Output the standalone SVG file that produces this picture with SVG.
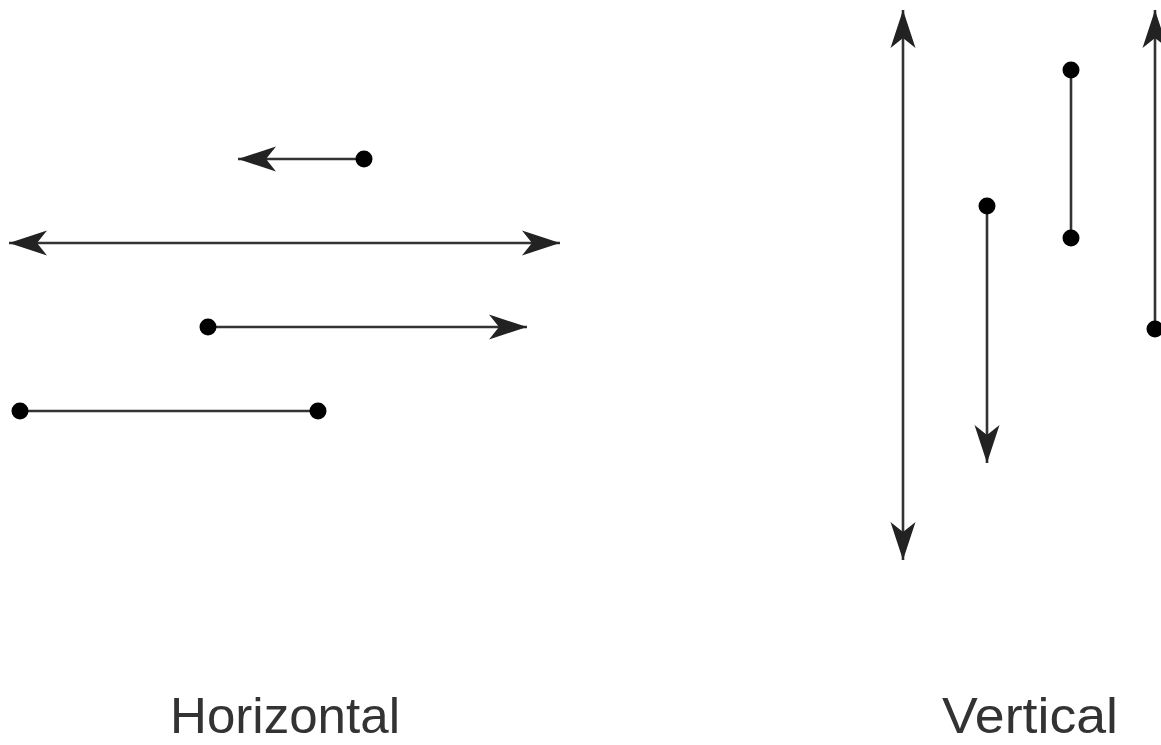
<svg xmlns="http://www.w3.org/2000/svg" width="1161" height="745" viewBox="0 0 1161 745">
<style>
.ln{stroke:#333;stroke-width:2.6;fill:none}
.dot{fill:#000}
.lbl{font-family:"Liberation Sans",Arial,sans-serif;font-size:50px;fill:#333}
</style>
<defs>
<marker id="ah" markerUnits="userSpaceOnUse" markerWidth="40" markerHeight="28" viewBox="-40 -14 40 28" refX="0" refY="0" orient="auto-start-reverse">
<path d="M0,0 L-38,-12.5 L-28,0 L-38,12.5 Z" fill="#222"/>
</marker>
</defs>
<rect width="1161" height="745" fill="#fff"/>
<g id="connectors">
<line class="ln" x1="364" y1="159" x2="238" y2="159" marker-end="url(#ah)"/>
<line class="ln" x1="9" y1="243" x2="560" y2="243" marker-start="url(#ah)" marker-end="url(#ah)"/>
<line class="ln" x1="208" y1="327" x2="527" y2="327" marker-end="url(#ah)"/>
<line class="ln" x1="20" y1="411" x2="318" y2="411"/>
<line class="ln" x1="903" y1="10" x2="903" y2="560" marker-start="url(#ah)" marker-end="url(#ah)"/>
<line class="ln" x1="987" y1="206" x2="987" y2="463" marker-end="url(#ah)"/>
<line class="ln" x1="1071" y1="70" x2="1071" y2="238"/>
<line class="ln" x1="1155" y1="329" x2="1155" y2="10" marker-end="url(#ah)"/>
</g>
<g id="dots">
<circle class="dot" cx="364" cy="159" r="8.5"/>
<circle class="dot" cx="208" cy="327" r="8.5"/>
<circle class="dot" cx="20" cy="411" r="8.5"/>
<circle class="dot" cx="318" cy="411" r="8.5"/>
<circle class="dot" cx="987" cy="206" r="8.5"/>
<circle class="dot" cx="1071" cy="70" r="8.5"/>
<circle class="dot" cx="1071" cy="238" r="8.5"/>
<circle class="dot" cx="1155" cy="329" r="8.5"/>
</g>
<g id="labels">
<text class="lbl" x="170" y="733" textLength="230" lengthAdjust="spacingAndGlyphs">Horizontal</text>
<text class="lbl" x="942" y="733" textLength="176" lengthAdjust="spacingAndGlyphs">Vertical</text>
</g>
</svg>
